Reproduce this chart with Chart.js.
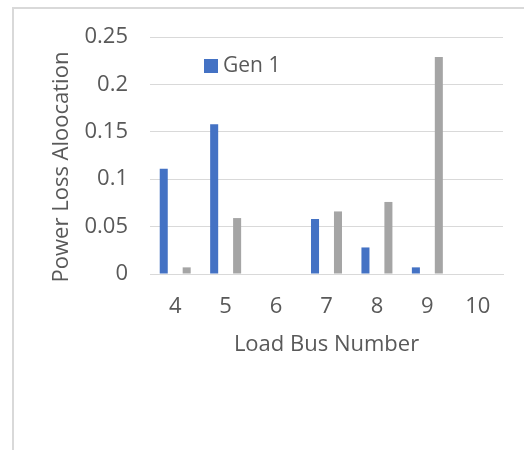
<!DOCTYPE html>
<html><head><meta charset="utf-8">
<script src="https://cdn.jsdelivr.net/npm/chart.js@4.4.1/dist/chart.umd.min.js"></script>
<style>
html,body{margin:0;padding:0;background:#fff;}
#wrap{position:relative;width:524px;height:450px;overflow:hidden;}
#frame{position:absolute;left:12px;top:7px;width:600px;height:500px;border-left:2px solid #d9d9d9;border-top:2px solid #d9d9d9;box-sizing:border-box;}
canvas{position:absolute;left:0;top:0;}
</style></head>
<body><div id="wrap"><div id="frame"></div><canvas id="c" width="524" height="450"></canvas></div>
<script>
const categories = ['4','5','6','7','8','9','10'];
const gen1 = [0.111, 0.158, 0, 0.058, 0.028, 0.007, 0];
const gen2 = [0.007, 0.059, 0, 0.066, 0.076, 0.229, 0];
const yTicks = [0, 0.05, 0.1, 0.15, 0.2, 0.25];
const seriesNames = ['Gen 1', 'Gen 2'];

const FONT = 'Open Sans';
const TXT = '#595959';
const FS = 22;

const extrasPlugin = {
  id: 'extras',
  afterDraw(chart) {
    const ctx = chart.ctx;
    const ds = chart.data.datasets[0];
    ctx.save();
    // legend (first series only)
    ctx.fillStyle = ds.backgroundColor;
    ctx.fillRect(204, 59, 14, 14);
    ctx.fillStyle = TXT;
    ctx.font = '21px "' + FONT + '"';
    ctx.textBaseline = 'middle';
    ctx.textAlign = 'left';
    ctx.fillText(ds.label, 223, 66);
    // y axis title
    const yt = chart.options.scales.y.title;
    ctx.translate(62, 167);
    ctx.rotate(-Math.PI / 2);
    ctx.textAlign = 'center';
    ctx.font = FS + 'px "' + FONT + '"';
    ctx.fillText(yt.text, 0, 0);
    ctx.restore();
  }
};

new Chart(document.getElementById('c'), {
  type: 'bar',
  data: {
    labels: categories,
    datasets: [
      {label: seriesNames[0], data: gen1, backgroundColor: '#4472C4', categoryPercentage: 0.91, barPercentage: 0.35},
      {label: seriesNames[1], data: gen2, backgroundColor: '#A5A5A5', categoryPercentage: 0.91, barPercentage: 0.35}
    ]
  },
  options: {
    responsive: false,
    animation: false,
    layout: {padding: {left: 0, right: 21, top: 37, bottom: 86}},
    plugins: {legend: {display: false}, tooltip: {enabled: false}},
    scales: {
      x: {
        grid: {display: false, drawTicks: false},
        border: {display: true, color: '#d9d9d9', width: 1},
        ticks: {color: TXT, font: {family: FONT, size: FS}, padding: 20},
        title: {display: true, text: 'Load Bus Number', color: TXT, font: {family: FONT, size: FS}, padding: {top: 0, bottom: 6}},
        afterFit(s) { s.height = 90; }
      },
      y: {
        min: 0, max: 0.25,
        afterBuildTicks(s) { s.ticks = yTicks.map(v => ({value: v})); },
        grid: {color: '#d9d9d9', lineWidth: 1, drawTicks: false},
        border: {display: false},
        ticks: {color: TXT, font: {family: FONT, size: FS}, padding: 22, callback: v => String(v)},
        title: {display: false, text: 'Power Loss Aloocation'},
        afterFit(s) { s.width = 150; }
      }
    }
  },
  plugins: [extrasPlugin]
});
</script></body></html>
